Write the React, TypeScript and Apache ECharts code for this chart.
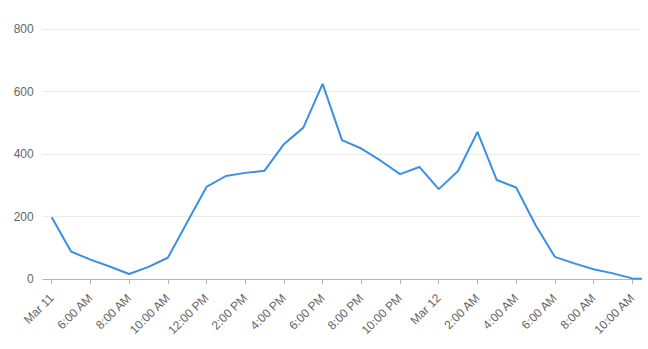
import React, { useEffect, useRef } from "react";
import * as echarts from "echarts";

// hours since Mar 11 00:00
const hours = [4, 5, 6, 7, 8, 9, 10, 11, 12, 13, 14, 15, 16, 17, 18, 19, 20, 21, 22, 23, 24, 25, 26, 27, 28, 29, 30, 31, 32, 33, 34, 35];
const values = [198, 88, 62, 40, 16, 39, 68, 182, 295, 330, 340, 347, 432, 485, 625, 445, 418, 379, 336, 359, 288, 346, 471, 317, 293, 173, 71, 50, 31, 18, 2, 0];
const tickHours = [4, 6, 8, 10, 12, 14, 16, 18, 20, 22, 24, 26, 28, 30, 32, 34];
const tickLabels = ["Mar 11", "6:00 AM", "8:00 AM", "10:00 AM", "12:00 PM", "2:00 PM", "4:00 PM", "6:00 PM", "8:00 PM", "10:00 PM", "Mar 12", "2:00 AM", "4:00 AM", "6:00 AM", "8:00 AM", "10:00 AM"];

export default function App() {
  const ref = useRef<HTMLDivElement>(null);
  useEffect(() => {
    if (!ref.current) return;
    const chart = echarts.init(ref.current, undefined, { renderer: "svg" });
    chart.setOption({
      animation: false,
      grid: { left: 42.7, right: 8, top: 29.3, bottom: 70, containLabel: false },
      xAxis: {
        type: "value",
        min: 3.535,
        max: 34.4,
        splitLine: { show: false },
        axisLine: { show: true, lineStyle: { color: "#b5b5b5", width: 1 } },
        axisTick: { show: true, length: 5, customValues: tickHours, lineStyle: { color: "#b5b5b5" } },
        axisLabel: {
          customValues: tickHours,
          rotate: 45,
          margin: 17,
          color: "#666",
          fontSize: 12,
          fontFamily: "Arial, 'Liberation Sans', sans-serif",
          formatter: (v: number) => {
            const i = tickHours.indexOf(Math.round(v));
            return i >= 0 ? tickLabels[i] : "";
          },
        },
      },
      yAxis: {
        type: "value",
        min: 0,
        max: 800,
        interval: 200,
        axisLine: { show: false },
        axisTick: { show: false },
        axisLabel: { color: "#666", fontSize: 12, margin: 9, fontFamily: "Arial, 'Liberation Sans', sans-serif" },
        splitLine: { lineStyle: { color: "#ececec", width: 1 } },
      },
      series: [
        {
          type: "line",
          data: hours.map((h, i) => [h, values[i]]),
          showSymbol: false,
          symbol: "none",
          clip: true,
          lineStyle: { color: "#3990e6", width: 2 },
          itemStyle: { color: "#3990e6" },
        },
      ],
    });
    return () => chart.dispose();
  }, []);
  return <div ref={ref} style={{ position: "fixed", left: 0, top: 0, width: 648, height: 349, background: "#fff" }} />;
}
